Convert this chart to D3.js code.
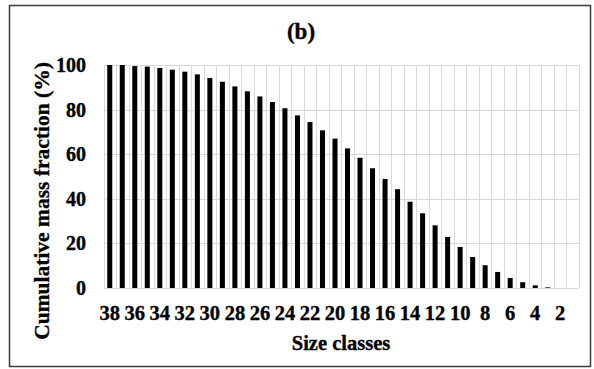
<!DOCTYPE html>
<html>
<head>
<meta charset="utf-8">
<script src="https://cdn.jsdelivr.net/npm/d3@7"></script>
<style>
  html, body { margin: 0; padding: 0; background: #fff; }
  text { font-family: "Liberation Serif", "Times New Roman", serif; font-weight: bold; fill: #000; stroke: #000; stroke-width: 0.35px; }
</style>
</head>
<body>
<svg id="chart" width="594" height="369"></svg>
<script>
// size classes, left to right
const size_classes = [38, 37, 36, 35, 34, 33, 32, 31, 30, 29, 28, 27, 26, 25, 24, 23, 22, 21, 20,
                      19, 18, 17, 16, 15, 14, 13, 12, 11, 10, 9, 8, 7, 6, 5, 4, 3, 2, 1];
// cumulative mass fraction (%)
const cum_mass = [100, 100, 99.5, 99.3, 98.7, 97.9, 97.0, 95.8, 94.2, 92.5, 90.4, 88.2, 85.9, 83.4, 80.6, 77.4, 74.4, 70.7, 67.0,
                  62.6, 58.4, 53.7, 48.9, 44.3, 38.7, 33.5, 28.1, 22.9, 18.4, 13.9, 10.2, 7.2, 4.5, 2.6, 1.2, 0.3, 0, 0];
const y_ticks = [0, 20, 40, 60, 80, 100];
const x_tick_labels = [38, 36, 34, 32, 30, 28, 26, 24, 22, 20, 18, 16, 14, 12, 10, 8, 6, 4, 2];

const svg = d3.select("#chart");
const plot = { left: 103.5, right: 579, top: 65, bottom: 288 };

// outer frame
svg.append("rect")
   .attr("x", 9.5).attr("y", 5.5)
   .attr("width", 581).attr("height", 361)
   .style("fill", "#fff")
   .style("stroke", "#3a3a3a")
   .style("stroke-width", 1.5);

let x = d3.scaleBand()
    .domain(size_classes)
    .range([plot.left, plot.right])
    .paddingInner(0.6)
    .paddingOuter(0.3);

let y = d3.scaleLinear()
    .domain([0, 100])
    .range([plot.bottom, plot.top]);

let grid = svg.append("g").style("stroke", "#d9d9d9").style("stroke-width", 1);

// horizontal gridlines
grid.selectAll("line.h")
    .data(y_ticks)
    .enter().append("line")
    .attr("x1", plot.left).attr("x2", plot.right)
    .attr("y1", d => Math.round(y(d)) + 0.5)
    .attr("y2", d => Math.round(y(d)) + 0.5);

// vertical gridlines at category boundaries
let step = x.step();
let bounds = size_classes.map((d, i) => plot.left + i * step).concat([plot.right]);
grid.selectAll("line.v")
    .data(bounds)
    .enter().append("line")
    .attr("x1", d => Math.round(d) + 0.5).attr("x2", d => Math.round(d) + 0.5)
    .attr("y1", plot.top).attr("y2", plot.bottom);

// bars
svg.append("g").selectAll("rect")
    .data(size_classes)
    .enter().append("rect")
    .attr("x", d => x(d))
    .attr("width", x.bandwidth())
    .attr("y", (d, i) => y(cum_mass[i]))
    .attr("height", (d, i) => y(0) - y(cum_mass[i]))
    .style("fill", "#000");

// y tick labels
svg.append("g").selectAll("text")
    .data(y_ticks)
    .enter().append("text")
    .attr("x", 86)
    .attr("y", d => y(d))
    .attr("dy", "0.35em")
    .attr("text-anchor", "end")
    .style("font-size", "20px")
    .text(d => d);

// x tick labels
svg.append("g").selectAll("text")
    .data(x_tick_labels)
    .enter().append("text")
    .attr("x", d => x(d) + x.bandwidth() / 2)
    .attr("y", 320)
    .attr("text-anchor", "middle")
    .style("font-size", "20.5px")
    .text(d => d);

// titles
svg.append("text")
   .attr("x", 301).attr("y", 39)
   .attr("text-anchor", "middle")
   .style("font-size", "23px")
   .text("(b)");

svg.append("text")
   .attr("x", 341).attr("y", 350)
   .attr("text-anchor", "middle")
   .style("font-size", "20.5px")
   .text("Size classes");

svg.append("text")
   .attr("transform", "translate(49,201) rotate(-90)")
   .attr("text-anchor", "middle")
   .style("font-size", "21.5px")
   .text("Cumulative mass fraction (%)");
</script>
</body>
</html>
